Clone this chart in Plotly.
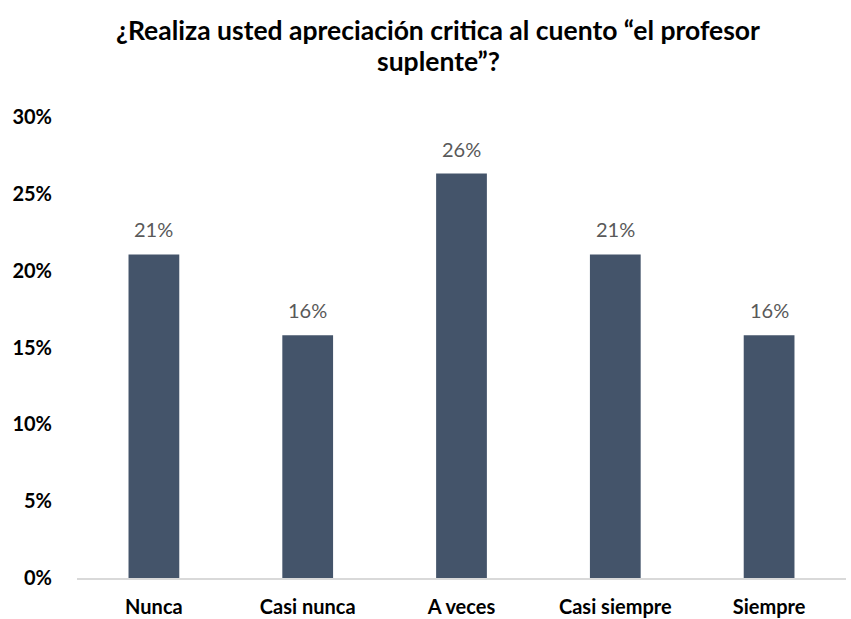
import plotly.graph_objects as go

categories = ["Nunca", "Casi nunca", "A veces", "Casi siempre", "Siempre"]
values = [4/19, 3/19, 5/19, 4/19, 3/19]
value_labels = ["21%", "16%", "26%", "21%", "16%"]
y_ticks = [0, 0.05, 0.10, 0.15, 0.20, 0.25, 0.30]
y_tick_labels = ["0%", "5%", "10%", "15%", "20%", "25%", "30%"]
title_lines = ["¿Realiza usted apreciación critica al cuento “el profesor", "suplente”?"]

FONT = "Lato"

fig = go.Figure(go.Bar(
    x=categories, y=values,
    marker=dict(color="#44546A", line=dict(width=0)),
    hoverinfo="skip",
))

for cat, val, lab in zip(categories, values, value_labels):
    fig.add_annotation(
        x=cat, y=val, text=lab, showarrow=False,
        xanchor="center", yanchor="middle", yshift=25,
        font=dict(family=FONT, size=20, color="#595959"),
    )

W, H = 851, 619
ML, MR, MT, MB = 77, 5, 117, 41
plot_h = H - MT - MB
plot_w = W - ML - MR


def py(px_from_top):
    return (H - MB - px_from_top) / plot_h


def px(px_from_left):
    return (px_from_left - ML) / plot_w


for line, ypix in zip(title_lines, [30, 61]):
    fig.add_annotation(
        text=f"<b>{line}</b>", xref="paper", yref="paper",
        x=px(438), y=py(ypix), xanchor="center", yanchor="middle",
        showarrow=False, font=dict(family=FONT, size=26.5, color="black"),
    )

fig.update_layout(
    width=W, height=H,
    margin=dict(l=ML, r=MR, t=MT, b=MB),
    paper_bgcolor="white", plot_bgcolor="white",
    bargap=0.67,
    showlegend=False,
    xaxis=dict(
        showline=True, linecolor="#D9D9D9", linewidth=1.5,
        tickfont=dict(family=FONT, size=20, color="black", weight="bold"),
        ticks="", ticklabelstandoff=10, automargin=False,
    ),
    yaxis=dict(
        range=[0, 0.30], tickvals=y_ticks, ticktext=y_tick_labels,
        showgrid=False, zeroline=False, showline=False,
        tickfont=dict(family=FONT, size=20, color="black", weight="bold"),
        ticks="", ticklabelstandoff=24, automargin=False,
    ),
)

fig.write_html(
    "out.html",
    config={"displayModeBar": False},
    post_script="document.body.style.margin='0';document.body.style.overflow='hidden';",
)
